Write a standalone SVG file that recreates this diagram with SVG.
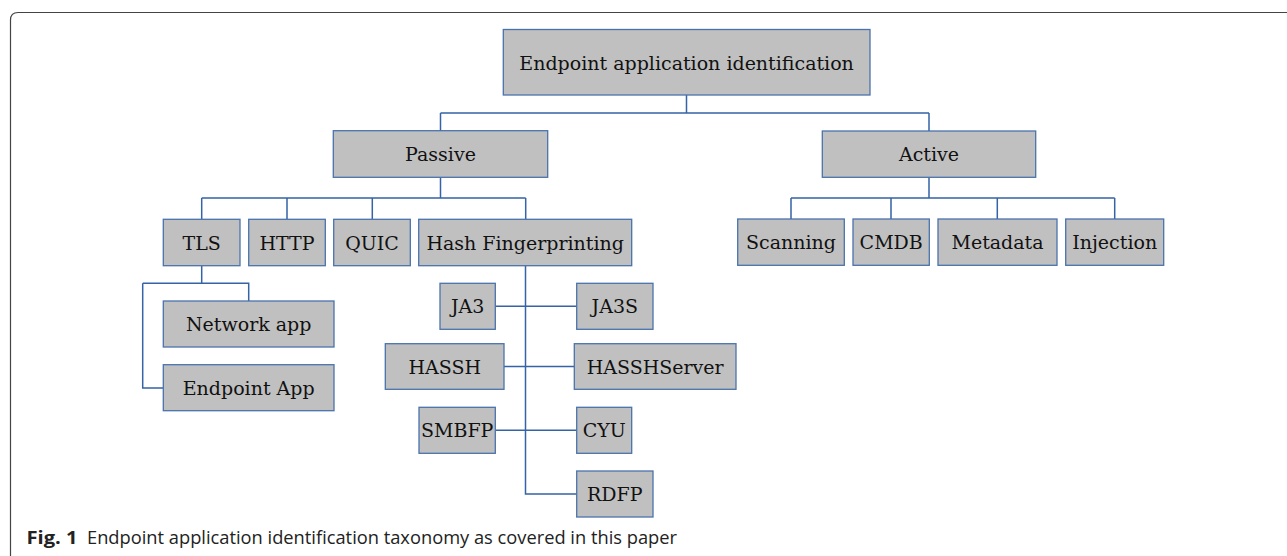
<svg xmlns="http://www.w3.org/2000/svg" width="1287" height="556" viewBox="0 0 1287 556">
  <style>
    .box { fill: #c0c0c0; stroke: #4a72ad; stroke-width: 1.3; }
    .lbl { font-family: "DejaVu Serif", "Liberation Serif", serif; font-size: 19px; fill: #111; text-anchor: middle; dominant-baseline: central; }
    .wire { fill: none; stroke: #3563a6; stroke-width: 1.5; }
    .cap { font-family: "Open Sans", "Noto Sans", sans-serif; font-size: 18px; fill: #222; }
  </style>
  <rect width="1287" height="556" fill="#fff"/>
  <!-- figure frame -->
  <path d="M10.5,556 V20 Q10.5,12.5 18,12.5 H1287" fill="none" stroke="#444" stroke-width="1.2"/>

  <g id="connectors">
    <!-- root to Passive / Active -->
    <path class="wire" d="M686.5,95 V113 M440.5,113 H929 M440.5,113 V131 M929,113 V131"/>
    <!-- Passive to its children -->
    <path class="wire" d="M440.5,177 V198 M201.7,198 H525.7 M201.7,198 V219 M287,198 V219 M372.3,198 V219 M525.7,198 V219"/>
    <!-- Active to its children -->
    <path class="wire" d="M929,177 V198 M791,198 H1114.7 M791,198 V219 M891,198 V219 M997.3,198 V219 M1114.7,198 V219"/>
    <!-- TLS to its children -->
    <path class="wire" d="M201.7,265.7 V283.3 M142.7,283.3 H248.7 V301 M142.7,283.3 V388 H163.3"/>
    <!-- Hash Fingerprinting spine and branches -->
    <path class="wire" d="M525.5,265.7 V494 H576.7 M495.3,306.3 H576.7 M504,366.6 H574.3 M495.3,430.3 H576.7"/>
  </g>

  <g id="root">
    <rect class="box" x="503.3" y="29.5" width="366.7" height="65.5"/>
    <text class="lbl" x="686.6" y="62.5">Endpoint application identification</text>
  </g>
  <g id="passive">
    <rect class="box" x="333.3" y="130.7" width="214.4" height="46.6"/>
    <text class="lbl" x="440.5" y="154">Passive</text>
  </g>
  <g id="active">
    <rect class="box" x="822.3" y="131" width="213.4" height="46.3"/>
    <text class="lbl" x="929" y="154">Active</text>
  </g>

  <g id="tls">
    <rect class="box" x="163.3" y="219.3" width="76.7" height="46.4"/>
    <text class="lbl" x="201.7" y="242.5">TLS</text>
  </g>
  <g id="http">
    <rect class="box" x="248.7" y="219.3" width="76.6" height="46.4"/>
    <text class="lbl" x="287" y="242.5">HTTP</text>
  </g>
  <g id="quic">
    <rect class="box" x="333.7" y="219.3" width="76.6" height="46.4"/>
    <text class="lbl" x="372" y="242.5">QUIC</text>
  </g>
  <g id="hash-fingerprinting">
    <rect class="box" x="418.7" y="219.3" width="213" height="46.4"/>
    <text class="lbl" x="525.2" y="242.5">Hash Fingerprinting</text>
  </g>

  <g id="scanning">
    <rect class="box" x="737.7" y="219" width="106.6" height="46.3"/>
    <text class="lbl" x="791" y="242.2">Scanning</text>
  </g>
  <g id="cmdb">
    <rect class="box" x="853" y="219" width="76.3" height="46.3"/>
    <text class="lbl" x="891.2" y="242.2">CMDB</text>
  </g>
  <g id="metadata">
    <rect class="box" x="938" y="219" width="119" height="46.3"/>
    <text class="lbl" x="997.5" y="242.2">Metadata</text>
  </g>
  <g id="injection">
    <rect class="box" x="1065.7" y="219" width="98" height="46.3"/>
    <text class="lbl" x="1114.7" y="242.2">Injection</text>
  </g>

  <g id="network-app">
    <rect class="box" x="163.3" y="301" width="170.7" height="46"/>
    <text class="lbl" x="248.7" y="324">Network app</text>
  </g>
  <g id="endpoint-app">
    <rect class="box" x="163.3" y="364.7" width="170.7" height="46"/>
    <text class="lbl" x="248.7" y="387.7">Endpoint App</text>
  </g>

  <g id="ja3">
    <rect class="box" x="440" y="283.3" width="55.3" height="46"/>
    <text class="lbl" x="467.7" y="306.3">JA3</text>
  </g>
  <g id="ja3s">
    <rect class="box" x="576.7" y="283.3" width="76.3" height="46"/>
    <text class="lbl" x="614.8" y="306.3">JA3S</text>
  </g>
  <g id="hassh">
    <rect class="box" x="385.3" y="343.7" width="118.7" height="45.6"/>
    <text class="lbl" x="444.7" y="366.5">HASSH</text>
  </g>
  <g id="hasshserver">
    <rect class="box" x="574.3" y="343.7" width="161.7" height="45.6"/>
    <text class="lbl" x="655.2" y="366.5">HASSHServer</text>
  </g>
  <g id="smbfp">
    <rect class="box" x="419" y="407.3" width="76.3" height="46"/>
    <text class="lbl" x="457.2" y="430.3">SMBFP</text>
  </g>
  <g id="cyu">
    <rect class="box" x="576.7" y="407.3" width="55" height="46"/>
    <text class="lbl" x="604.2" y="430.3">CYU</text>
  </g>
  <g id="rdfp">
    <rect class="box" x="576.7" y="471" width="76.3" height="46"/>
    <text class="lbl" x="614.8" y="494">RDFP</text>
  </g>

  <!-- caption -->
  <text class="cap" x="26.5" y="544" font-weight="bold" textLength="51" lengthAdjust="spacingAndGlyphs">Fig. 1</text>
  <text class="cap" x="87" y="544" textLength="590" lengthAdjust="spacingAndGlyphs">Endpoint application identification taxonomy as covered in this paper</text>
</svg>
